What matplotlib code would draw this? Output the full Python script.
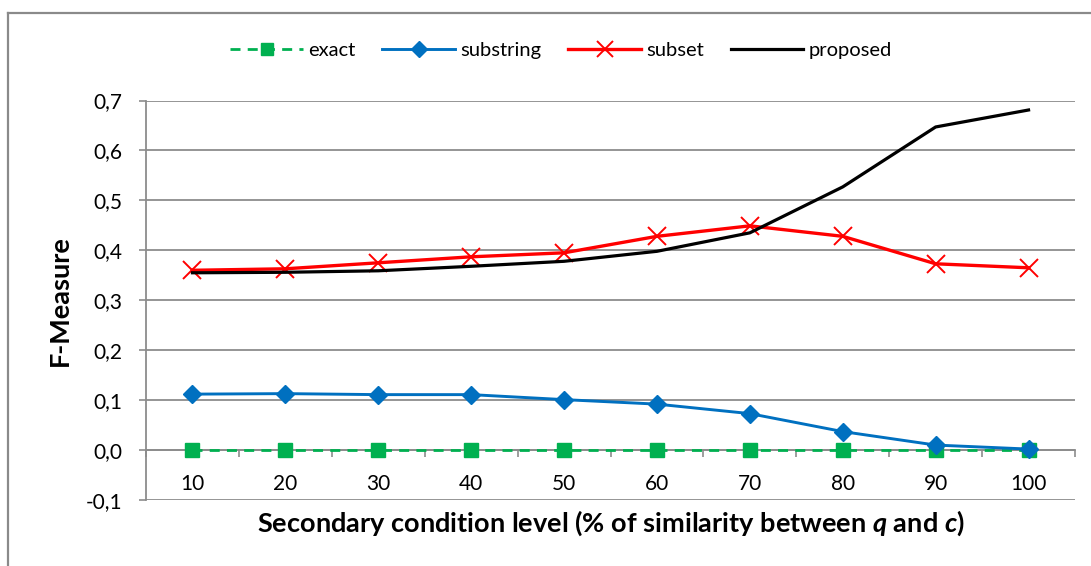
import matplotlib
matplotlib.use("Agg")
import matplotlib.pyplot as plt
from matplotlib.lines import Line2D
from matplotlib.ticker import FixedLocator, FuncFormatter

plt.rcParams['font.family'] = ['Lato', 'DejaVu Sans']
plt.rcParams['mathtext.fontset'] = 'custom'
plt.rcParams['mathtext.it'] = 'Lato:bold:italic'
plt.rcParams['mathtext.rm'] = 'Lato:bold'
plt.rcParams['mathtext.bf'] = 'Lato:bold'

categories = ['10', '20', '30', '40', '50', '60', '70', '80', '90', '100']
exact = [0.0, 0.0, 0.0, 0.0, 0.0, 0.0, 0.0, 0.0, 0.0, 0.0]
substring = [0.112, 0.113, 0.111, 0.111, 0.101, 0.092, 0.073, 0.037, 0.010, 0.002]
subset = [0.360, 0.363, 0.375, 0.387, 0.395, 0.428, 0.449, 0.428, 0.373, 0.365]
proposed = [0.355, 0.356, 0.359, 0.368, 0.378, 0.398, 0.435, 0.527, 0.647, 0.681]
yticks = [-0.1, 0.0, 0.1, 0.2, 0.3, 0.4, 0.5, 0.6, 0.7]

W, H = 1091, 566
fig = plt.figure(figsize=(W / 100, H / 100), dpi=100)
ax = fig.add_axes([146 / W, 1 - 500 / H, (1075 - 146) / W, (500 - 100.5) / H])

x = list(range(len(categories)))
grid_c = '#8c8c8c'

ax.plot(x, exact, color='#00B050', lw=2.0, linestyle=(0, (3.6, 2.6)),
        marker='s', ms=9.5, mec='#00B050', mfc='#00B050', zorder=3)
ax.plot(x, substring, color='#0070C0', lw=2.1, marker='D', ms=9,
        mec='#0070C0', mfc='#0070C0', zorder=4)
ax.plot(x, subset, color='#FF0000', lw=2.4, marker='x', ms=12.5, mew=1.4,
        zorder=5)
ax.plot(x, proposed, color='#000000', lw=2.3, zorder=6)

ax.set_xlim(-0.5, len(categories) - 0.5)
ax.set_ylim(-0.1, 0.7)
ax.set_yticks(yticks)
ax.yaxis.set_major_formatter(FuncFormatter(lambda v, p: f"{v:.1f}".replace('.', ',')))
ax.grid(axis='y', color=grid_c, lw=1.3)
ax.set_axisbelow(True)

for s in ['top', 'right']:
    ax.spines[s].set_visible(False)
ax.spines['left'].set_color(grid_c)
ax.spines['left'].set_linewidth(1.3)
ax.spines['bottom'].set_position(('data', 0))
ax.spines['bottom'].set_color(grid_c)
ax.spines['bottom'].set_linewidth(1.3)

ax.set_xticks(x)
ax.set_xticklabels(categories)
ax.xaxis.set_minor_locator(FixedLocator([i + 0.5 for i in range(-1, len(categories))]))
ax.tick_params(axis='x', which='major', length=0, pad=17, labelsize=15, colors='black')
ax.tick_params(axis='x', which='minor', length=5, width=1.2, color=grid_c, direction='out')
ax.tick_params(axis='y', which='major', length=5, width=1.2, color=grid_c, pad=12,
               labelsize=15, labelcolor='black')

fig.text(60 / W, 1 - 301 / H, 'F-Measure', rotation=90, ha='center', va='center',
         fontsize=19.5, fontweight='bold')
fig.text(611 / W, 1 - 523 / H,
         r'Secondary condition level (% of similarity between $q$ and $c$)',
         ha='center', va='center', fontsize=19.5, fontweight='bold')

handles = [
    Line2D([], [], color='#00B050', lw=2.0, linestyle=(0, (3.6, 2.6)), marker='s', ms=9),
    Line2D([], [], color='#0070C0', lw=2.1, marker='D', ms=8.5),
    Line2D([], [], color='#FF0000', lw=2.4, marker='x', ms=11, mew=1.4),
    Line2D([], [], color='#000000', lw=2.3),
]
fig.legend(handles, ['exact', 'substring', 'subset', 'proposed'], loc='center',
           bbox_to_anchor=(561 / W, 1 - 50 / H), ncol=4, frameon=False,
           fontsize=14.5, handlelength=3.6, handletextpad=0.25, columnspacing=1.35)

# outer chart frame (left and top edges visible)
fig.add_artist(Line2D([8 / W, 8 / W], [0, 1 - 13 / H], transform=fig.transFigure,
                      color='#8a8a8a', lw=1.6))
fig.add_artist(Line2D([8 / W, 1], [1 - 13 / H, 1 - 13 / H], transform=fig.transFigure,
                      color='#8a8a8a', lw=1.6))

fig.savefig('out.png', dpi=100)
